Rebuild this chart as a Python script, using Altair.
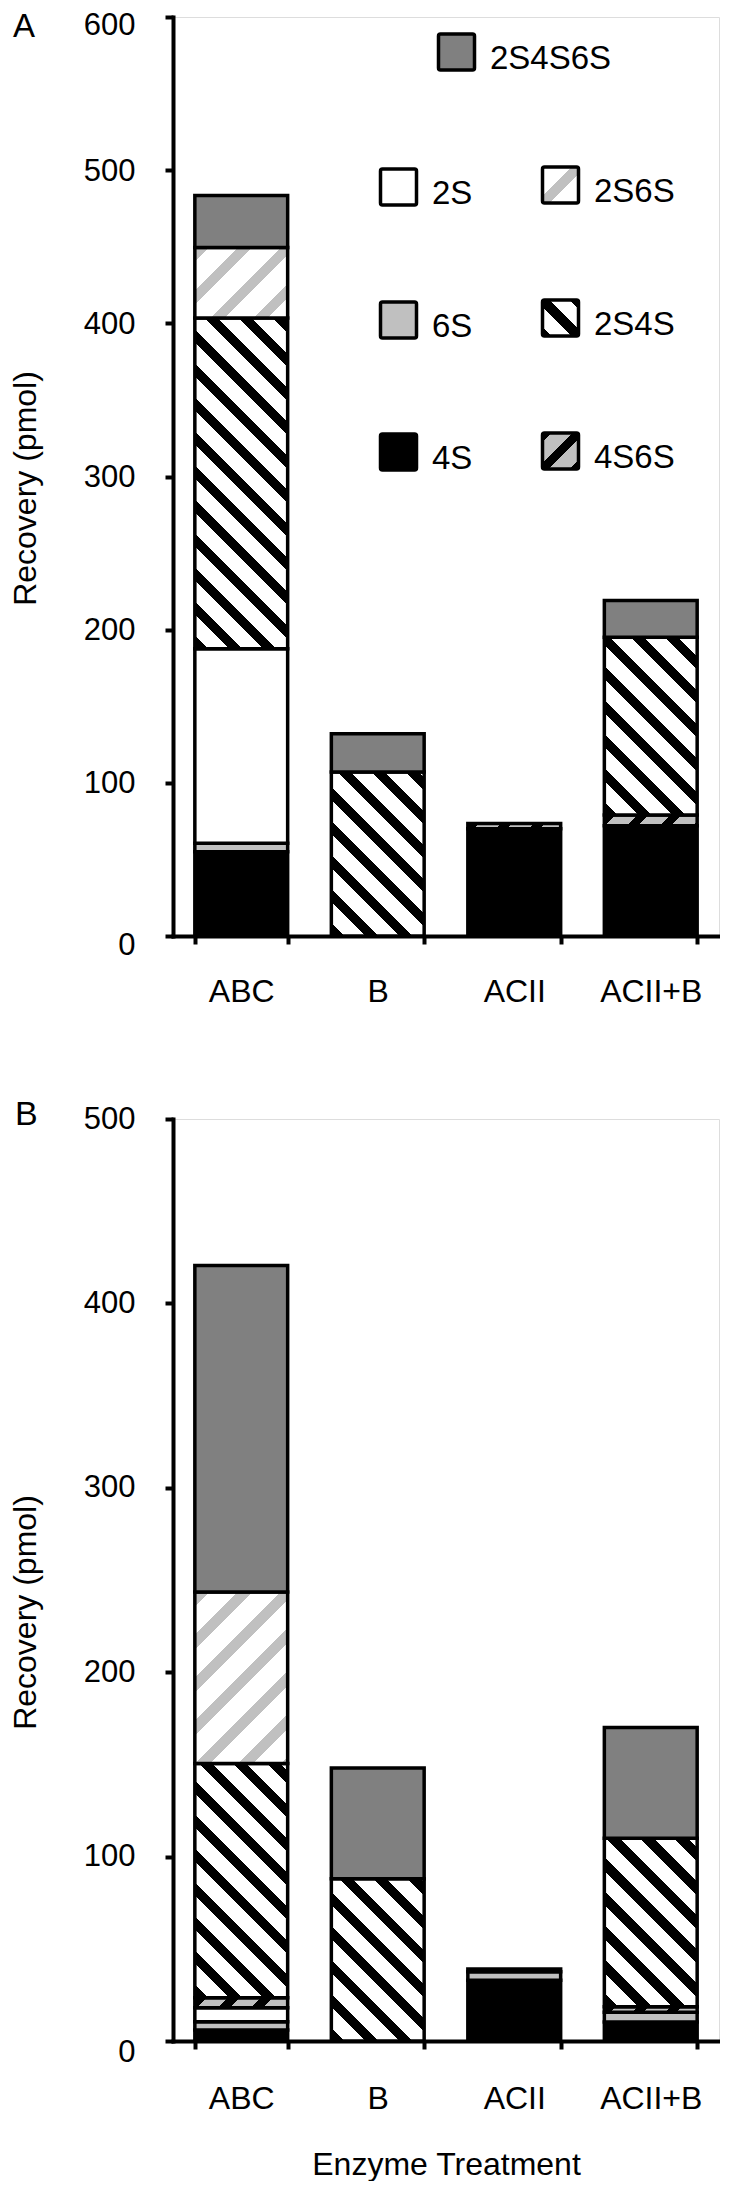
import altair as alt

FONT = "Liberation Sans"

# ---------------- data ----------------
treatments = ["ABC", "B", "ACII", "ACII+B"]
species = ["4S", "6S", "2S", "4S6S", "2S4S", "2S6S", "2S4S6S"]   # stacking order, bottom -> top

# Panel A: recovery (pmol) per disaccharide, values follow `treatments`
a_4S = [55, 0, 70, 72]
a_6S = [5.5, 0, 0, 0]
a_2S = [127, 0, 0, 0]
a_4S6S = [0, 0, 3.5, 7]
a_2S4S = [216, 107, 0, 116]
a_2S6S = [46, 0, 0, 0]
a_2S4S6S = [34, 25, 0, 24]

# Panel B
b_4S = [6, 0, 33, 10.3]
b_6S = [4.5, 0, 4.5, 5.3]
b_2S = [7.5, 0, 0, 0]
b_4S6S = [5.5, 0, 1.5, 3]
b_2S4S = [127, 88, 0, 91.4]
b_2S6S = [93, 0, 0, 0]
b_2S4S6S = [177, 60, 0, 60]

a_ticks = [0, 100, 200, 300, 400, 500, 600]
b_ticks = [0, 100, 200, 300, 400, 500]

panel_a = {"4S": a_4S, "6S": a_6S, "2S": a_2S, "4S6S": a_4S6S,
           "2S4S": a_2S4S, "2S6S": a_2S6S, "2S4S6S": a_2S4S6S}
panel_b = {"4S": b_4S, "6S": b_6S, "2S": b_2S, "4S6S": b_4S6S,
           "2S4S": b_2S4S, "2S6S": b_2S6S, "2S4S6S": b_2S4S6S}

# ---------------- style ----------------
PLOT_W = 546
H_A, H_B = 919, 922
PAD_INNER, PAD_OUTER = 0.32, 0.16
BAR_W = PLOT_W / (len(treatments) - PAD_INNER + 2 * PAD_OUTER) * (1 - PAD_INNER)

SOLID = {"4S": "#000000", "6S": "#c0c0c0", "2S": "#ffffff", "2S4S6S": "#808080"}
HATCH = {
    "2S4S": ("\\", "#000000", "#ffffff", 34.0, 0.40),
    "2S6S": ("/", "#c0c0c0", "#ffffff", 43.0, 0.34),
    "4S6S": ("/", "#000000", "#c0c0c0", 33.0, 0.35),
}


def stripes(w, h, direction, ink, paper, period, ink_frac, centered=False):
    """Diagonal 45 degree stripes as a linear gradient in bounding-box units."""
    k = (w + h) / (w * w + h * h)
    if direction == "/":
        x1, y1, x2, y2 = 0.0, 0.0, k * w, k * h
    else:
        x1, y1, x2, y2 = 0.0, 1.0, k * w, 1.0 - k * h
    n = (w + h) / period
    phase = ((0.5 * n - ink_frac / 2) % 1.0) if centered else 0.0
    stops = []
    i = -1
    while True:
        a = (i + phase) / n
        b = (i + phase + ink_frac) / n
        c = (i + 1 + phase) / n
        if a >= 1:
            break
        if b > 0:
            stops += [{"offset": max(a, 0.0), "color": ink},
                      {"offset": min(b, 1.0), "color": ink}]
        if c > 0 and b < 1:
            stops += [{"offset": max(b, 0.0), "color": paper},
                      {"offset": min(c, 1.0), "color": paper}]
        i += 1
    return {"gradient": "linear", "x1": x1, "y1": y1, "x2": x2, "y2": y2, "stops": stops}


def fill_for(sp, w, h, centered=False):
    if sp in SOLID:
        return SOLID[sp]
    d, ink, paper, period, frac = HATCH[sp]
    return stripes(w, h, d, ink, paper, period, frac, centered)


def rows_for(table, ymax, height):
    ppu = height / ymax
    rows = []
    for k, sp in enumerate(species):
        for t, v in zip(treatments, table[sp]):
            if v > 0:
                rows.append({"treatment": t, "species": sp, "order": k, "value": v,
                             "fill": fill_for(sp, BAR_W, v * ppu)})
    return rows


def text_layer(txt, x, y, size, align="left", baseline="alphabetic"):
    return alt.Chart(alt.Data(values=[{"k": txt}])).mark_text(
        text=txt, font=FONT, fontSize=size, color="black", align=align, baseline=baseline
    ).encode(x=alt.value(x), y=alt.value(y))


def panel(table, ymax, ticks, height, ytitle_y, x_label_pad, label_offset,
          x_title=None, x_title_y=None, letter="A", letter_pos=(-160, 20),
          letter_size=33, legend=False):
    yaxis = alt.Axis(values=ticks, format="d", grid=False,
                     domainColor="black", domainWidth=4, domainCap="square",
                     tickColor="black", tickWidth=4, tickSize=8,
                     labelFont=FONT, labelFontSize=31, labelColor="black", labelPadding=30,
                     labelOffset=label_offset,
                     title="Recovery (pmol)", titleFont=FONT, titleFontSize=32,
                     titleFontWeight="normal", titleColor="black", titleAngle=270,
                     titleX=-138, titleY=ytitle_y, titleAlign="center", titleBaseline="alphabetic")
    xkw = dict(labelAngle=0, tickBand="extent",
               domainColor="black", domainWidth=4, domainCap="square",
               tickColor="black", tickWidth=4, tickSize=8,
               labelFont=FONT, labelFontSize=32, labelColor="black",
               labelBaseline="alphabetic", labelPadding=x_label_pad)
    if x_title:
        xkw.update(title=x_title, titleFont=FONT, titleFontSize=32, titleFontWeight="normal",
                   titleColor="black", titleX=PLOT_W / 2, titleY=x_title_y,
                   titleAlign="center", titleBaseline="alphabetic")
    else:
        xkw.update(title=None)
    xaxis = alt.Axis(**xkw)

    bars = alt.Chart(alt.Data(values=rows_for(table, ymax, height))).mark_bar(
        stroke="black", strokeWidth=3.5, strokeJoin="miter"
    ).encode(
        x=alt.X("treatment:N", sort=treatments,
                scale=alt.Scale(paddingInner=PAD_INNER, paddingOuter=PAD_OUTER), axis=xaxis),
        y=alt.Y("value:Q", stack="zero", scale=alt.Scale(domain=[0, ymax], nice=False), axis=yaxis),
        order=alt.Order("order:Q", sort="ascending"),
        detail="species:N",
        fill=alt.Fill("fill:N", scale=None),
    )
    layers = [bars, text_layer(letter, letter_pos[0], letter_pos[1], letter_size)]

    if legend:
        items = [("2S4S6S", 265.5, 17), ("2S", 207.5, 152), ("2S6S", 369.5, 150),
                 ("6S", 207.5, 285), ("2S4S", 369.5, 283), ("4S", 207.5, 417), ("4S6S", 369.5, 416)]
        S = 36
        for name, lx, ly in items:
            sw = alt.Chart(alt.Data(values=[{"k": name}])).mark_rect(
                fill=fill_for(name, S, S, centered=True), stroke="black", strokeWidth=3.5,
                cornerRadius=2
            ).encode(x=alt.value(lx), x2=alt.value(lx + S), y=alt.value(ly), y2=alt.value(ly + S))
            layers.append(sw)
            layers.append(text_layer(name, lx + 51.5, ly + 35, 33))

    return alt.layer(*layers).properties(width=PLOT_W, height=height)


top = panel(panel_a, 600, a_ticks, H_A, ytitle_y=471, x_label_pad=57,
            label_offset={"condition": [{"test": "datum.value == 600", "value": 8},
                                        {"test": "datum.value == 0", "value": 9}],
                          "value": 1},
            letter="A", letter_pos=(-160, 20), letter_size=33, legend=True)
bottom = panel(panel_b, 500, b_ticks, H_B, ytitle_y=493, x_label_pad=59.5,
               label_offset={"condition": {"test": "datum.value == 0", "value": 11}, "value": 0},
               x_title="Enzyme Treatment", x_title_y=133,
               letter="B", letter_pos=(-158, 6), letter_size=34)

chart = alt.vconcat(top, bottom).properties(
    spacing=183, bounds="flush", padding=0
).configure_view(stroke=None).configure(font=FONT)

chart.save("out.html", embed_options={"renderer": "svg", "actions": False})
